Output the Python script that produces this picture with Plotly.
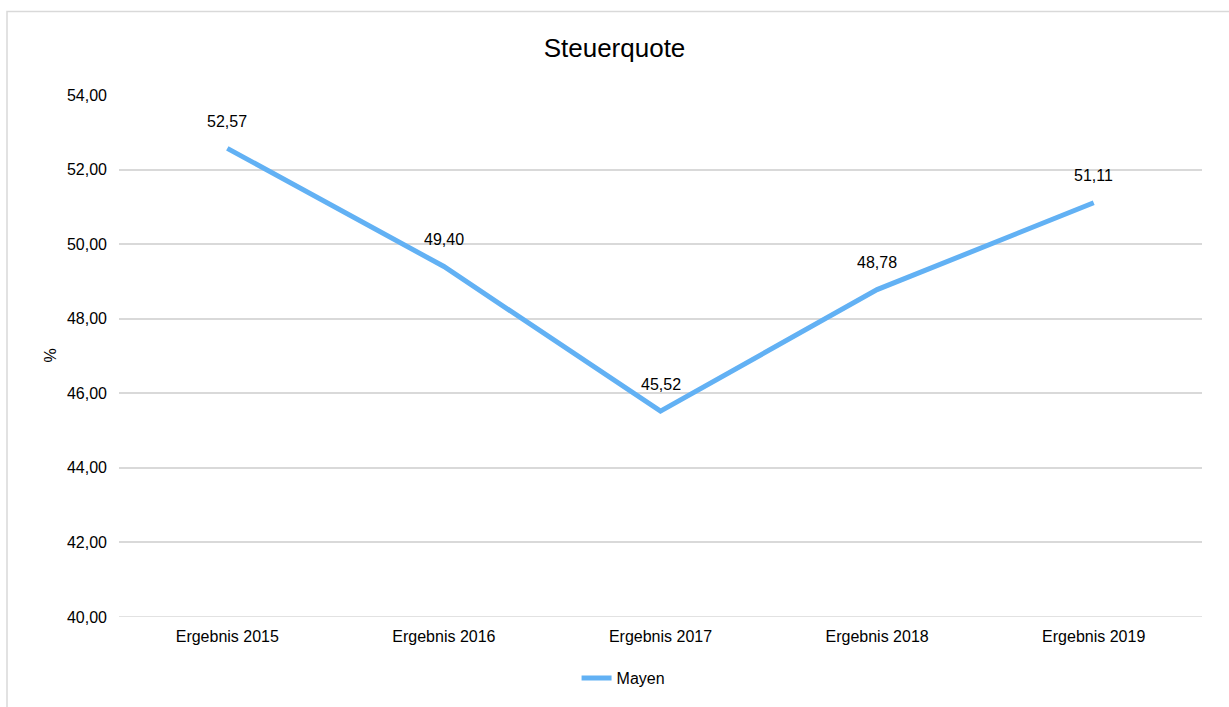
import plotly.graph_objects as go

categories = ["Ergebnis 2015", "Ergebnis 2016", "Ergebnis 2017", "Ergebnis 2018", "Ergebnis 2019"]
values = [52.57, 49.40, 45.52, 48.78, 51.11]
series_name = "Mayen"
y_ticks = [40, 42, 44, 46, 48, 50, 52, 54]
y_tick_labels = [f"{v:.2f}".replace(".", ",") for v in y_ticks]
value_labels = [f"{v:.2f}".replace(".", ",") for v in values]

FONT = "Liberation Sans, Arial, sans-serif"
LINE_COLOR = "#62B1F4"
GRID = "#D9D9D9"
FS = 16

fig = go.Figure()
fig.add_trace(go.Scatter(
    x=list(range(len(categories))), y=values, mode="lines", name=series_name,
    line=dict(color=LINE_COLOR, width=5),
    hoverinfo="skip",
))

for i, (v, t) in enumerate(zip(values, value_labels)):
    fig.add_annotation(x=i, y=v, text=t, showarrow=False, yshift=27,
                       font=dict(family=FONT, size=FS, color="#000000"))

fig.add_annotation(xref="paper", yref="paper", x=(50 - 119) / 1083, y=0.501,
                   text="%", textangle=-90, showarrow=False,
                   xanchor="center", yanchor="middle",
                   font=dict(family=FONT, size=FS, color="#000000"))

fig.update_layout(
    width=1229, height=707,
    margin=dict(l=119, r=27, t=95, b=87),
    paper_bgcolor="white", plot_bgcolor="white",
    title=dict(text="Steuerquote", x=0.5, xanchor="center", y=0.932, yanchor="middle",
               font=dict(family=FONT, size=26, color="#000000")),
    showlegend=True,
    legend=dict(orientation="h", x=0.4659, xanchor="center", y=-0.117, yanchor="middle",
                font=dict(family=FONT, size=FS, color="#000000")),
    xaxis=dict(range=[-0.5, len(categories) - 0.5], tickmode="array",
               tickvals=list(range(len(categories))), ticktext=categories,
               showgrid=False, zeroline=False, showline=False, ticks="",
               ticklabelstandoff=8,
               tickfont=dict(family=FONT, size=FS, color="#000000"), fixedrange=True),
    yaxis=dict(range=[y_ticks[0], y_ticks[-1]], tickmode="array", tickvals=y_ticks,
               ticktext=y_tick_labels,
               showgrid=True, gridcolor=GRID, gridwidth=1.5, zeroline=False,
               showline=False, ticks="", ticklen=0, ticklabelstandoff=11,
               tickfont=dict(family=FONT, size=FS, color="#000000"),
               fixedrange=True),
    shapes=[
        dict(type="rect", xref="paper", yref="paper",
             x0=-112/1083, x1=1.1, y0=-0.3, y1=(620-11)/525,
             line=dict(color=GRID, width=1.5), fillcolor="rgba(0,0,0,0)", layer="below"),
        dict(type="line", xref="paper", yref="y", x0=0, x1=1, y0=y_ticks[0], y1=y_ticks[0],
             line=dict(color=GRID, width=1.5), layer="below"),
    ],
)

fig.write_html("out.html", config={"displayModeBar": False},
               post_script="document.body.style.margin='0';document.body.style.padding='0';")
